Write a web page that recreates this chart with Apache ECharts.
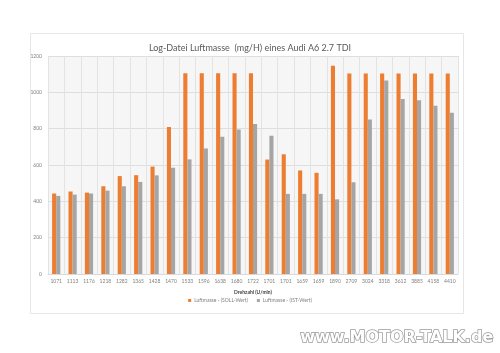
<!DOCTYPE html>
<html>
<head>
<meta charset="utf-8">
<script src="https://cdn.jsdelivr.net/npm/echarts@6/dist/echarts.min.js"></script>
<style>
  html, body { margin: 0; padding: 0; background: #fff; }
  #chart { width: 500px; height: 353px; }
</style>
</head>
<body>
<div id="chart"></div>
<script>
  // Drehzahl (U/min)
  var categories = ['1071', '1113', '1176', '1218', '1282', '1365', '1428', '1470', '1533', '1596', '1638', '1680', '1722',
    '1701', '1701', '1659', '1659', '1890', '2709', '3024', '3318', '3612', '3885', '4158', '4410']
  var sollWert = [443, 454, 448, 483, 539, 544, 591, 809, 1105, 1105, 1105, 1105, 1105,
    630, 659, 570, 557, 1146, 1104, 1104, 1104, 1104, 1104, 1104, 1104]
  var istWert = [430, 437, 443, 459, 483, 507, 543, 585, 631, 691, 756, 796, 826,
    761, 441, 441, 441, 411, 505, 850, 1065, 963, 957, 926, 887]
  var yTicks = { min: 0, max: 1200, interval: 200 }

  var font = 'Lato, "Open Sans", sans-serif'
  var myChart = echarts.init(document.getElementById('chart'))
  var option = {
    animation: false,
    textStyle: { fontFamily: font },
    title: {
      text: 'Log-Datei Luftmasse  (mg/H) eines Audi A6 2.7 TDI',
      left: 'center',
      top: 39,
      textStyle: { fontSize: 9, fontWeight: 'normal', color: '#595959', fontFamily: font }
    },
    legend: {
      bottom: 45,
      left: 'center',
      itemWidth: 3,
      itemHeight: 3,
      itemGap: 9,
      icon: 'rect',
      textStyle: { fontSize: 5, color: '#7f7f7f', padding: [0, 0, 0, -2] },
      data: ['Luftmasse - (SOLL-Wert)', 'Luftmasse - (IST-Wert)']
    },
    grid: {
      left: 48,
      right: 42,
      top: 56,
      bottom: 79,
      show: true,
      backgroundColor: '#f6f6f6',
      borderWidth: 0
    },
    xAxis: {
      type: 'category',
      data: categories,
      name: 'Drehzahl (U/min)',
      nameLocation: 'middle',
      nameGap: 16,
      nameTextStyle: { fontSize: 5, color: '#404040', fontWeight: 'bold' },
      axisLine: { show: true, lineStyle: { color: '#d9d9d9' } },
      axisTick: { show: false },
      axisLabel: { interval: 0, fontSize: 5, color: '#7f7f7f', margin: 5 },
      splitLine: { show: true, interval: 0, lineStyle: { color: '#e3e3e3', width: 1 } }
    },
    yAxis: {
      type: 'value',
      min: yTicks.min,
      max: yTicks.max,
      interval: yTicks.interval,
      axisLine: { show: false },
      axisTick: { show: false },
      axisLabel: { fontSize: 5, color: '#7f7f7f', margin: 6, formatter: function (v) { return String(v) } },
      splitLine: { lineStyle: { color: '#dedede', width: 1 } }
    },
    series: [
      {
        name: 'Luftmasse - (SOLL-Wert)',
        type: 'bar',
        data: sollWert,
        barGap: '0%',
        barCategoryGap: '50%',
        itemStyle: { color: '#ED7D31' }
      },
      {
        name: 'Luftmasse - (IST-Wert)',
        type: 'bar',
        data: istWert,
        barGap: '0%',
        barCategoryGap: '50%',
        itemStyle: { color: '#A5A5A5' }
      }
    ],
    graphic: [
      {
        type: 'rect',
        shape: { x: 30.5, y: 33.5, width: 433, height: 280 },
        style: { fill: 'none', stroke: '#e6e6e6', lineWidth: 1 },
        z: -10
      },
      {
        type: 'text',
        right: 6,
        bottom: 6,
        style: {
          text: 'www.MOTOR-TALK.de',
          font: 'bold 16px "DejaVu Sans", sans-serif',
          fill: '#ffffff',
          stroke: '#9a9a9a',
          lineWidth: 1.5
        }
      }
    ]
  }
  myChart.setOption(option)
</script>
</body>
</html>
